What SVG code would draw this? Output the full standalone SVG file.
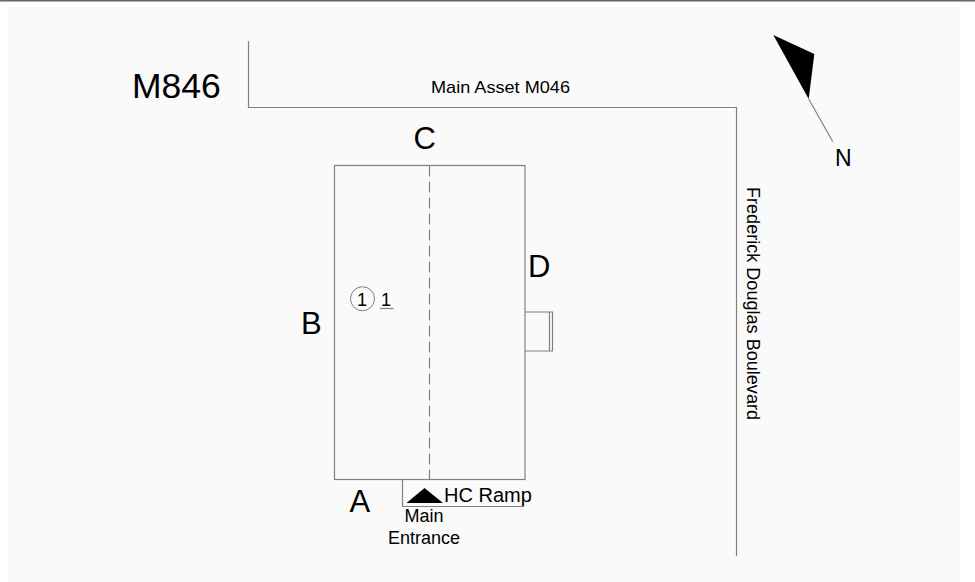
<svg xmlns="http://www.w3.org/2000/svg" width="975" height="582" viewBox="0 0 975 582">
<style>
text{font-family:"Liberation Sans",Arial,sans-serif;fill:#000}
.l{fill:none;stroke:#808080;stroke-width:1.2}
.s{font-size:18px}
.m{font-size:31px}
</style>
<rect width="975" height="582" fill="#fff"/>
<rect x="8" y="7" width="952" height="575" fill="#fafafa"/>
<rect width="975" height="1.500" fill="#666"/>
<g id="road">
<path class="l" d="M248.500 41V107.500H736.500V556"/>
<text x="431" y="93" font-size="17" textLength="139" lengthAdjust="spacingAndGlyphs">Main Asset M046</text>
<text font-size="17.500" transform="translate(747 187) rotate(90)" textLength="233" lengthAdjust="spacingAndGlyphs">Frederick Douglas Boulevard</text>
</g>
<g id="title"><text x="132" y="98" font-size="35.500">M846</text></g>
<g id="north">
<path d="M773.300 35L814.300 54L808.700 99Z" fill="#000"/>
<path class="l" d="M808.700 99L832.700 141.500"/>
<text x="835" y="165.500" font-size="23">N</text>
</g>
<g id="building">
<rect class="l" x="334.500" y="165.500" width="190.500" height="314"/>
<path class="l" d="M429.500 165.500V479" stroke-dasharray="11 5"/>
<path class="l" d="M525 312H552.500V351H525M549.500 312V351"/>
</g>
<g id="labels">
<text class="m" x="413.500" y="149">C</text>
<text class="m" x="528" y="277">D</text>
<text class="m" x="301" y="334">B</text>
<text class="m" x="349.500" y="512">A</text>
</g>
<g id="space">
<circle cx="362.500" cy="298.700" r="12" fill="none" stroke="#808080" stroke-width="1"/>
<text class="s" x="357" y="305.500">1</text>
<text class="s" x="381" y="305.500">1</text>
<path class="l" d="M380 308.500H393.500"/>
</g>
<g id="entrance">
<path class="l" d="M402.500 480V506.500H524"/>
<path d="M406.500 503L424.500 488L443 503Z" fill="#000"/>
<text x="444" y="501.500" font-size="20">HC Ramp</text>
<text class="s" x="404.500" y="522">Main</text>
<text class="s" x="388" y="544">Entrance</text>
</g>
</svg>
